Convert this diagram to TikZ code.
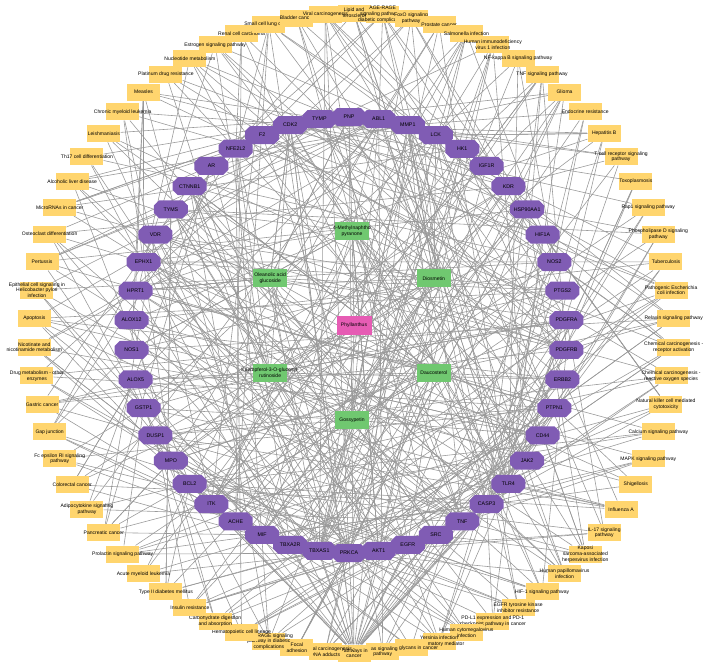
\documentclass[tikz,border=0pt]{standalone}
\usepackage{fontspec}
\setsansfont{Liberation Sans}
\usetikzlibrary{shapes.misc, backgrounds}

\definecolor{pathyellow}{RGB}{255,213,110}
\definecolor{targetpurple}{RGB}{128,92,180}
\definecolor{compoundgreen}{RGB}{112,200,112}
\definecolor{herbpink}{RGB}{230,92,180}

\begin{document}
\begin{tikzpicture}[x = 0.03 cm, y = 0.03 cm, font = \sffamily,
	pathway/.style = {rectangle, fill = pathyellow, minimum width = 0.99 cm, minimum height = 0.51 cm, inner sep = 0},
	pathname/.style = {font = \sffamily\fontsize{4.3}{4.8}\selectfont, align = center, inner sep = 0},
	target/.style = {chamfered rectangle, chamfered rectangle xsep = 0.2 cm, fill = targetpurple, minimum width = 1.02 cm, minimum height = 0.54 cm, inner sep = 0, font = \sffamily\fontsize{4.5}{5}\selectfont},
	compound/.style = {rectangle, fill = compoundgreen, minimum width = 1.02 cm, minimum height = 0.54 cm, inner sep = 0},
	herb/.style = {compound, fill = herbpink, minimum width = 1.05 cm, minimum height = 0.57 cm},
	link/.style = {gray!80, line width = 0.5 pt}]

	% Definitions

	\def\cx{354}		% Centre of the pathway ring
	\def\cy{-333}
	\def\rp{320}		% Ring radii
	\def\rt{218}
	\def\rc{94.5}

	\useasboundingbox (0, 0) rectangle (709, -666);

	% Draw pathways

	\foreach \name [count = \k from 0] in {{Lipid and\\atherosclerosis}, {AGE-RAGE\\signaling pathway in\\diabetic complications}, {FoxO signaling\\pathway}, Prostate cancer, Salmonella infection, {Human immunodeficiency\\virus 1 infection}, NF-kappa B signaling pathway, TNF signaling pathway, Glioma, Endocrine resistance, Hepatitis B, {T cell receptor signaling\\pathway}, Toxoplasmosis, Rap1 signaling pathway, {Phospholipase D signaling\\pathway}, Tuberculosis, {Pathogenic Escherichia\\coli infection}, Relaxin signaling pathway, {Chemical carcinogenesis -\\receptor activation}, {Chemical carcinogenesis -\\reactive oxygen species}, {Natural killer cell mediated\\cytotoxicity}, Calcium signaling pathway, MAPK signaling pathway, Shigellosis, Influenza A, {IL-17 signaling\\pathway}, {Kaposi\\sarcoma-associated\\herpesvirus infection}, {Human papillomavirus\\infection}, HIF-1 signaling pathway, {EGFR tyrosine kinase\\inhibitor resistance}, {PD-L1 expression and PD-1\\checkpoint pathway in cancer}, {Human cytomegalovirus\\infection}, {Yersinia infection\\Inflammatory mediator}, Proteoglycans in cancer, {Ras signaling\\pathway}, {Pathways in\\cancer}, {Chemical carcinogenesis -\\DNA adducts}, {Focal\\adhesion}, {AGE-RAGE signaling\\pathway in diabetic\\complications}, Hematopoietic cell lineage, {Carbohydrate digestion\\and absorption}, Insulin resistance, Type II diabetes mellitus, Acute myeloid leukemia, Prolactin signaling pathway, Pancreatic cancer, {Adipocytokine signaling\\pathway}, Colorectal cancer, {Fc epsilon RI signaling\\pathway}, Gap junction, Gastric cancer, {Drug metabolism - other\\enzymes}, {Nicotinate and\\nicotinamide metabolism}, Apoptosis, {Epithelial cell signaling in\\Helicobacter pylori\\infection}, Pertussis, Osteoclast differentiation, MicroRNAs in cancer, Alcoholic liver disease, Th17 cell differentiation, Leishmaniasis, Chronic myeloid leukemia, Measles, Platinum drug resistance, Nucleotide metabolism, Estrogen signaling pathway, Renal cell carcinoma, Small cell lung cancer, Bladder cancer, Viral carcinogenesis}
	{
		\node [pathway] (p\k) at ({\cx + \rp*cos(90 - \k*36/7)}, {\cy + \rp*sin(90 - \k*36/7)}) {};
		\node [pathname] at (p\k) {\name};
	}

	% Draw targets

	\foreach \name [count = \k from 0] in {PNP, ABL1, MMP1, LCK, HK1, IGF1R, KDR, HSP90AA1, HIF1A, NOS2, PTGS2, PDGFRA, PDGFRB, ERBB2, PTPN1, CD44, JAK2, TLR4, CASP3, TNF, SRC, EGFR, AKT1, PRKCA, TBXAS1, TBXA2R, MIF, ACHE, ITK, BCL2, MPO, DUSP1, GSTP1, ALOX5, NOS1, ALOX12, HPRT1, EPHX1, VDR, TYMS, CTNNB1, AR, NFE2L2, F2, CDK2, TYMP}
		\node [target] (t\k) at ({349 + \rt*cos(90 - \k*180/23)}, {-335 + \rt*sin(90 - \k*180/23)}) {\name};

	% Draw herb + compounds

	\node [herb] (herb) at (354, -325.5) {};
	\node [pathname] at (herb) {Phyllanthus};

	\foreach \name [count = \k from 0] in {{4-Methylnaphtho\\pyranone}, Diosmetin, Daucosterol, Gossypetin, {Kaempferol-3-O-glucosyl-\\rutinoside}, {Oleanolic acid\\glucoside}}
	{
		\node [compound] (c\k) at ({352 + \rc*cos(90 - \k*60)}, {-325.5 + \rc*sin(90 - \k*60)}) {};
		\node [pathname] at (c\k) {\name};
	}

	% Draw links

	\begin{pgfonlayer}{background}
		\pgfmathsetseed{17}

		\foreach \k in {0, ..., 69}
		{
			\pgfmathrandominteger{\n}{3}{6}
			\foreach \j in {1, ..., \n}
			{
				\pgfmathrandominteger{\tg}{0}{45}
				\draw [link] (p\k) -- (t\tg);
			}
			\pgfmathrandominteger{\tg}{17}{27}
			\draw [link] (p\k) -- (t\tg);
		}

		\foreach \tg in {0, 2, 5, 7, 9, 11, 13, 15, 16, 17, 18, 19, 20, 21, 22, 23, 24, 25, 27, 29, 30, 33, 36, 40, 42, 44}
			\draw [link] (p35) -- (t\tg);

		\foreach \cp in {0, ..., 5}
		{
			\draw [link] (herb) -- (c\cp);
			\foreach \j in {1, ..., 18}
			{
				\pgfmathrandominteger{\tg}{0}{45}
				\draw [link] (c\cp) -- (t\tg);
			}
		}
	\end{pgfonlayer}

\end{tikzpicture}
\end{document}
